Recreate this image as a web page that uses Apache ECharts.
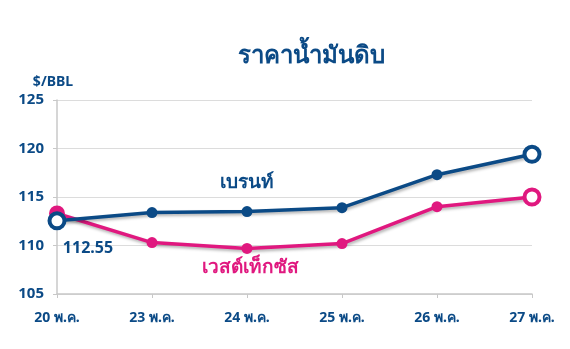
<!DOCTYPE html>
<html><head><meta charset="utf-8">
<script src="https://cdn.jsdelivr.net/npm/echarts@6/dist/echarts.min.js"></script>
<style>html,body{margin:0;padding:0;background:#fff}#c{width:570px;height:349px}</style>
</head><body><div id="c"></div>
<script>
const categories = ['20 พ.ค.', '23 พ.ค.', '24 พ.ค.', '25 พ.ค.', '26 พ.ค.', '27 พ.ค.'];
const brent = [112.55, 113.4, 113.5, 113.9, 117.3, 119.4];
const wti = [113.3, 110.3, 109.7, 110.2, 114.0, 115.0];
const yTicks = [105, 110, 115, 120, 125];
const seriesNames = ['เบรนท์', 'เวสต์เท็กซัส'];

const BLUE = '#0b4a86', PINK = '#e0187f';
const FONT = '"Noto Sans", "Open Sans", sans-serif';

function styled(vals, color, firstHollow) {
  return vals.map((v, i) => {
    const last = i === vals.length - 1;
    const first = i === 0;
    if (last || (first && firstHollow)) {
      return {value: v, symbolSize: 15, itemStyle: {color: '#fff', borderColor: color, borderWidth: 4}};
    }
    if (first) return {value: v, symbolSize: 16, itemStyle: {color: color}};
    return {value: v, symbolSize: 11, itemStyle: {color: color}};
  });
}

const brentData = styled(brent, BLUE, true);
brentData[0].label = {show: true, position: 'bottom', distance: 10, offset: [31, 0],
  formatter: '{c}', color: BLUE, fontSize: 16, fontWeight: 'bold', fontFamily: FONT};

const chart = echarts.init(document.getElementById('c'));
chart.setOption({
  animation: false,
  title: {text: 'ราคาน้ำมันดิบ', left: 306, top: 39, textAlign: 'center',
    textStyle: {color: BLUE, fontSize: 24, fontWeight: 'bold', fontFamily: FONT}},
  grid: {left: 57, right: 38, top: 100, bottom: 55},
  xAxis: {type: 'category', data: categories, boundaryGap: false,
    axisLine: {lineStyle: {color: '#c8c8c8', width: 1.5}},
    axisTick: {show: true, length: 4, lineStyle: {color: '#c8c8c8'}},
    axisLabel: {color: BLUE, fontSize: 14, fontWeight: 'bold', fontFamily: FONT, margin: 17}},
  yAxis: {type: 'value', min: yTicks[0], max: yTicks[yTicks.length - 1], interval: 5,
    name: '$/BBL', nameLocation: 'end', nameGap: 11,
    nameTextStyle: {color: BLUE, fontSize: 14, fontWeight: 'bold', fontFamily: FONT, align: 'center', padding: [0, 8, 0, 0]},
    axisLine: {show: true, lineStyle: {color: '#c8c8c8', width: 1.5}},
    axisTick: {show: true, length: 4, lineStyle: {color: '#c8c8c8'}},
    splitLine: {lineStyle: {color: '#dcdcdc', width: 1.2}},
    axisLabel: {color: BLUE, fontSize: 15, fontWeight: 'bold', fontFamily: FONT, margin: 13}},
  series: [
    {name: seriesNames[1], type: 'line', data: styled(wti, PINK, false), symbol: 'circle',
      lineStyle: {color: PINK, width: 3.5, shadowColor: 'rgba(0,0,0,0.3)', shadowBlur: 3, shadowOffsetX: 1, shadowOffsetY: 2},
      itemStyle: {color: PINK}, z: 2},
    {name: seriesNames[0], type: 'line', data: brentData, symbol: 'circle',
      lineStyle: {color: BLUE, width: 3.5, shadowColor: 'rgba(0,0,0,0.3)', shadowBlur: 3, shadowOffsetX: 1, shadowOffsetY: 2},
      itemStyle: {color: BLUE}, z: 3}
  ],
  graphic: [
    {type: 'text', style: {text: seriesNames[0], x: 247, y: 183, align: 'center', verticalAlign: 'middle',
      fill: BLUE, font: 'bold 19px ' + FONT}},
    {type: 'text', style: {text: seriesNames[1], x: 250, y: 268, align: 'center', verticalAlign: 'middle',
      fill: PINK, font: 'bold 19px ' + FONT}}
  ]
});
</script></body></html>
